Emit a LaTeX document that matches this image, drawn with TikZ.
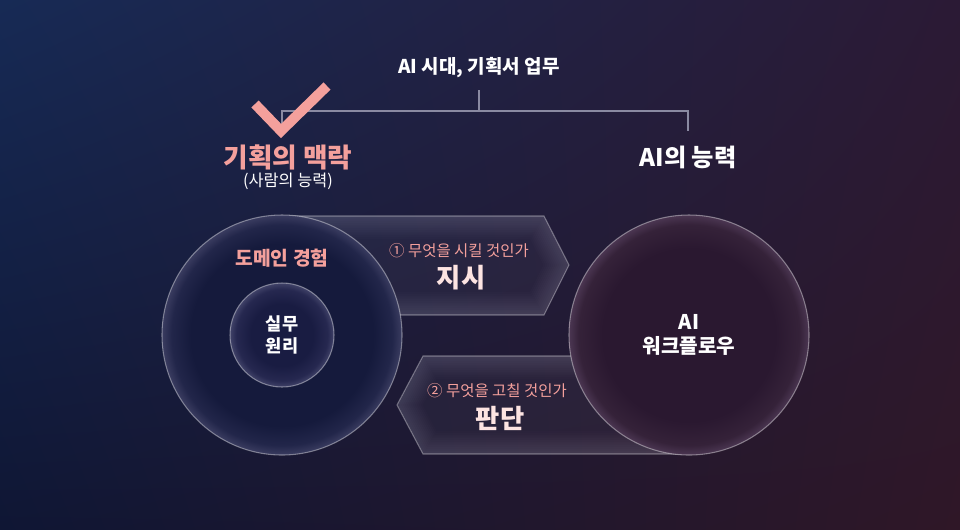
\documentclass[tikz,border=0pt]{standalone}
\usepackage{fontspec}
\setmainfont{Noto Sans CJK KR}
\usetikzlibrary{positioning}
\usetikzlibrary{shadings}
\definecolor{bgnw}{HTML}{172A55}
\definecolor{bgne}{HTML}{2B1A35}
\definecolor{bgsw}{HTML}{0F1634}
\definecolor{bgse}{HTML}{2F1727}
\definecolor{salmon}{HTML}{F4A09C}
\definecolor{palepink}{HTML}{FDE4E2}
\definecolor{linegray}{HTML}{8A8AA2}
\definecolor{lcin}{HTML}{151A3C}
\definecolor{lcmid}{HTML}{22264A}
\definecolor{lcrim}{HTML}{3A3C60}
\definecolor{icin}{HTML}{191C42}
\definecolor{icmid}{HTML}{262850}
\definecolor{icrim}{HTML}{404268}
\definecolor{rcin}{HTML}{2A1830}
\definecolor{rcmid}{HTML}{352239}
\definecolor{rcrim}{HTML}{4B3652}
\pgfdeclareradialshading{leftglow}{\pgfpoint{0bp}{0bp}}{color(0bp)=(lcin); color(19bp)=(lcin); color(23bp)=(lcmid); color(25bp)=(lcrim); color(50bp)=(lcrim)}
\pgfdeclareradialshading{innerglow}{\pgfpoint{0bp}{0bp}}{color(0bp)=(icin); color(15bp)=(icin); color(22bp)=(icmid); color(25bp)=(icrim); color(50bp)=(icrim)}
\pgfdeclareradialshading{rightglow}{\pgfpoint{0bp}{0bp}}{color(0bp)=(rcin); color(18bp)=(rcin); color(23bp)=(rcmid); color(25bp)=(rcrim); color(50bp)=(rcrim)}
\tikzset{treeline/.style = {draw=linegray, line width=0.7pt}}
\tikzset{rim/.style = {draw=white, draw opacity=0.4, line width=0.6pt}}
\tikzset{glass/.style = {fill=white, fill opacity=0.04, draw=white, draw opacity=0.35, line width=0.6pt}}
\tikzset{headtxt/.style = {font=\bfseries\fontsize{13.8}{16}\selectfont}}
\tikzset{circtxt/.style = {font=\bfseries\fontsize{10}{13}\selectfont, align=center}}
\tikzset{asktxt/.style = {text=salmon, font=\fontsize{8.8}{10}\selectfont}}
\tikzset{verbtxt/.style = {text=palepink, font=\bfseries\fontsize{15}{17}\selectfont}}

\begin{document}
\begin{tikzpicture}[x=0.02cm, y=-0.02cm]
  \shade [upper left=bgnw, upper right=bgne, lower left=bgsw, lower right=bgse]
    (0, 0) rectangle (960, 529);

  % tree on top
  \node [text=white, font=\bfseries\fontsize{10.8}{12}\selectfont] (title) at (479, 68) {AI 시대, 기획서 업무};
  \coordinate (stem) at (479, 90);
  \coordinate (hub) at (479, 111);
  \coordinate (lcorner) at (282, 111);
  \coordinate (rcorner) at (688, 111);
  \coordinate (lend) at (282, 130);
  \coordinate (rend) at (688, 131);
  \draw [treeline] (stem) -- (hub);
  \draw [treeline] (lend) -- (lcorner) -- (rcorner) -- (rend);
  \draw [salmon, line width=5.7pt] (255, 104) -- (281, 131) -- (327, 86);

  \node [headtxt, text=salmon, font=\bfseries\fontsize{15.2}{17}\selectfont] (ctxhead) at (288, 157) {기획의 맥락};
  \node [text=white, font=\fontsize{9.3}{11}\selectfont] (ctxsub) at (288, 181) {(사람의 능력)};
  \node [headtxt, text=white] (aihead) at (688, 157) {AI의 능력};

  % glass arrows
  \coordinate (oa) at (282, 216);
  \coordinate (ob) at (544, 216);
  \coordinate (oc) at (569, 265);
  \coordinate (od) at (544, 315);
  \coordinate (oe) at (282, 315);
  \coordinate (ja) at (689, 356);
  \coordinate (jb) at (423, 356);
  \coordinate (jc) at (397, 405);
  \coordinate (jd) at (423, 454);
  \coordinate (je) at (689, 454);
  \begin{scope}
    \clip (oa) -- (ob) -- (oc) -- (od) -- (oe) -- cycle;
    \foreach \w in {2,4,...,26}
      \draw [white, opacity=0.012, line width=\w pt] (oa) -- (ob) -- (oc) -- (od) -- (oe) -- cycle;
  \end{scope}
  \path [glass] (oa) -- (ob) -- (oc) -- (od) -- (oe) -- cycle;
  \begin{scope}
    \clip (ja) -- (jb) -- (jc) -- (jd) -- (je) -- cycle;
    \foreach \w in {2,4,...,26}
      \draw [white, opacity=0.012, line width=\w pt] (ja) -- (jb) -- (jc) -- (jd) -- (je) -- cycle;
  \end{scope}
  \path [glass] (ja) -- (jb) -- (jc) -- (jd) -- (je) -- cycle;

  % circles
  \shade [shading=leftglow] (282, 335) circle [radius=120];
  \draw [rim] (282, 335) circle [radius=120];
  \shade [shading=innerglow] (282, 335) circle [radius=52];
  \draw [rim] (282, 335) circle [radius=52];
  \shade [shading=rightglow] (689, 335) circle [radius=120];
  \draw [rim] (689, 335) circle [radius=120];

  \node [circtxt, text=salmon, font=\bfseries\fontsize{11}{13}\selectfont] (domain) at (282, 258) {도메인 경험};
  \node [circtxt, text=white] (practice) at (282, 335) {실무\\원리};
  \node [circtxt, text=white, font=\bfseries\fontsize{11.5}{14}\selectfont] (aiflow) at (689, 335) {AI\\워크플로우};

  \node [asktxt] (orderq) at (459, 251) {① 무엇을 시킬 것인가};
  \node [verbtxt] (order) at (461, 278) {지시};
  \node [asktxt] (judgeq) at (497, 391) {② 무엇을 고칠 것인가};
  \node [verbtxt] (judge) at (500, 418) {판단};
\end{tikzpicture}
\end{document}
